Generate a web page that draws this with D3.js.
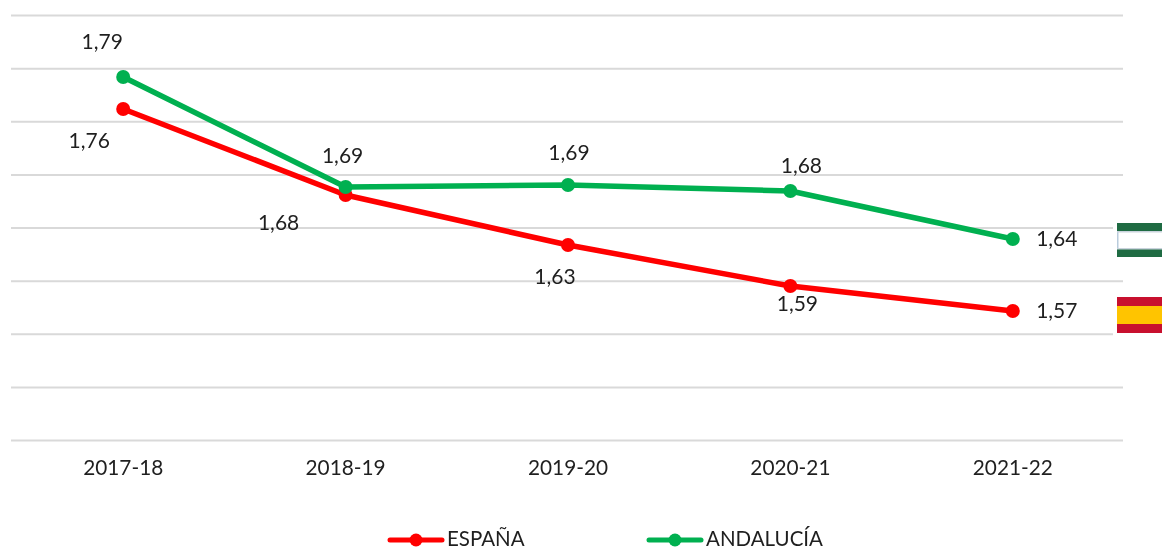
<!DOCTYPE html>
<html>
<head>
<meta charset="utf-8">
<script src="https://cdn.jsdelivr.net/npm/d3@7"></script>
<style>
  html, body { margin: 0; padding: 0; background: #fff; }
  text { font-family: Lato, "Open Sans", sans-serif; fill: #1f1f1f; }
  /* the source picture is a soft screenshot */
  svg { filter: blur(0.45px); }
</style>
</head>
<body>
<div id="chart"></div>
<script>
var svgWidth = 1162;
var svgHeight = 548;

var margin = { top: 15, right: 39, bottom: 108, left: 11 };
var width = svgWidth - margin.left - margin.right;
var height = svgHeight - margin.top - margin.bottom;

// values
var seasons = ["2017-18", "2018-19", "2019-20", "2020-21", "2021-22"];
var espana = [1.7615, 1.6806, 1.6335, 1.5949, 1.5714];
var andalucia = [1.7916, 1.6881, 1.69, 1.6844, 1.6392];
var gridTicks = [1.45, 1.5, 1.55, 1.6, 1.65, 1.7, 1.75, 1.8, 1.85];

// label offsets from the point, placed by hand like in the original
var espanaOffsets = [[-34, 39], [-67, 35], [-13, 39], [7, 25], [44, 7]];
var andaluciaOffsets = [[-21, -28], [-3, -24], [1, -25], [11, -18], [44, 7]];

var svg = d3.select("#chart")
    .append("svg")
    .attr("width", svgWidth)
    .attr("height", svgHeight)
    .style("display", "block");

var chartGroup = svg.append("g")
    .attr("transform", `translate(${margin.left}, ${margin.top})`);

var xScale = d3.scaleBand().domain(seasons).range([1, width + 1]);
var yScale = d3.scaleLinear().domain([1.45, 1.85]).range([height, 0]);

// gridlines
var gridAxis = d3.axisLeft(yScale).tickValues(gridTicks).tickSize(-width).tickFormat("");
var gridGroup = chartGroup.append("g").call(gridAxis);
gridGroup.select(".domain").remove();
gridGroup.selectAll("line").attr("stroke", "#d9d9d9").attr("stroke-width", 2);

// category labels
var bottomAxis = d3.axisBottom(xScale).tickSize(0).tickPadding(20);
var xAxis = chartGroup.append("g")
    .attr("transform", `translate(0, ${height})`)
    .call(bottomAxis);
xAxis.select(".domain").remove();
xAxis.selectAll("text")
    .attr("font-size", "20.8px")
    .style("font-family", "Lato, sans-serif");

var line = d3.line()
    .x((d, i) => xScale(seasons[i]) + xScale.bandwidth() / 2)
    .y(d => yScale(d));

var series = [
    { name: "ESPAÑA", values: espana, offsets: espanaOffsets, color: "#ff0000" },
    { name: "ANDALUCÍA", values: andalucia, offsets: andaluciaOffsets, color: "#00b050" }
];

series.forEach(function (s) {
    chartGroup.append("path")
        .attr("d", line(s.values))
        .attr("fill", "none")
        .attr("stroke", s.color)
        .attr("stroke-width", 5.5)
        .attr("stroke-linejoin", "round");

    chartGroup.append("g")
        .selectAll("circle")
        .data(s.values)
        .enter()
        .append("circle")
        .attr("cx", (d, i) => xScale(seasons[i]) + xScale.bandwidth() / 2)
        .attr("cy", d => yScale(d))
        .attr("r", 7)
        .attr("fill", s.color);
});

var fmt = d => d3.format(".2f")(d).replace(".", ",");

series.forEach(function (s) {
    chartGroup.append("g")
        .selectAll("text")
        .data(s.values)
        .enter()
        .append("text")
        .attr("x", (d, i) => xScale(seasons[i]) + xScale.bandwidth() / 2 + s.offsets[i][0])
        .attr("y", (d, i) => yScale(d) + s.offsets[i][1])
        .attr("text-anchor", "middle")
        .attr("font-size", "21px")
        .text(fmt);
});

// flags
function flag(y, h, outer, inner) {
    var g = svg.append("g");
    g.append("rect").attr("x", 1113).attr("y", y - 3).attr("width", 49).attr("height", h + 6).attr("fill", "#fff");
    g.append("rect").attr("x", 1117).attr("y", y).attr("width", 45).attr("height", h).attr("fill", outer);
    g.append("rect").attr("x", 1117).attr("y", y + h * 0.25).attr("width", 45).attr("height", h * 0.5).attr("fill", inner);
}
flag(223, 34, "#1f6b43", "#ffffff");
flag(297, 36, "#c8102e", "#ffc400");
// thin blue-grey edge around the white band of the andalusian flag
svg.append("rect").attr("x", 1117).attr("y", 231).attr("width", 1.5).attr("height", 18).attr("fill", "#b9cbdc");
svg.append("rect").attr("x", 1117).attr("y", 231).attr("width", 45).attr("height", 1.5).attr("fill", "#c9d3dc");
svg.append("rect").attr("x", 1117).attr("y", 248).attr("width", 45).attr("height", 1.5).attr("fill", "#c9d3dc");

// legend
var legend = svg.append("g");
var legendX = [390, 649];
series.forEach(function (s, i) {
    var g = legend.append("g").attr("transform", `translate(${legendX[i]}, 540)`);
    g.append("line").attr("x1", 0).attr("x2", 52).attr("stroke", s.color).attr("stroke-width", 5).attr("stroke-linecap", "round");
    g.append("circle").attr("cx", 26).attr("r", 6.5).attr("fill", s.color);
    g.append("text").attr("x", 57).attr("y", 5.5).attr("font-size", "20.5px").text(s.name);
});
</script>
</body>
</html>
